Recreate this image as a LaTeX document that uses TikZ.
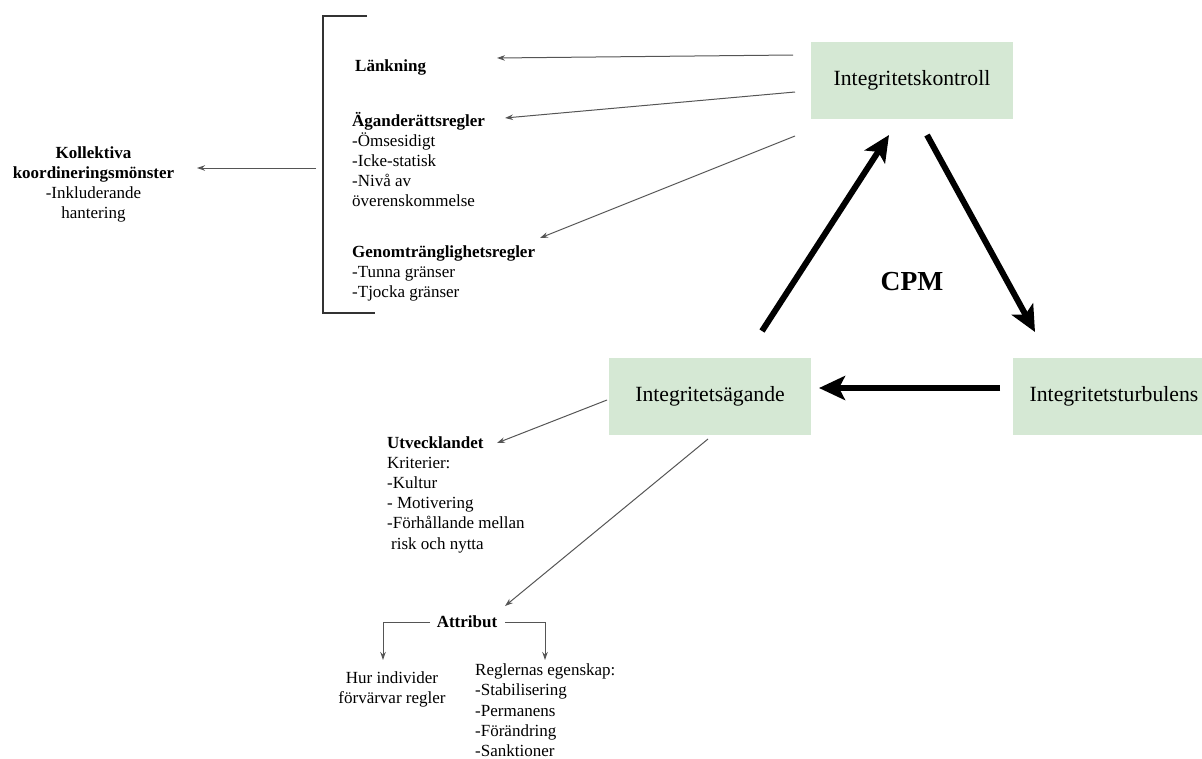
\documentclass[tikz,border=0pt]{standalone}
\usepackage{fontspec}
\setmainfont{Liberation Serif}
\usetikzlibrary{arrows.meta}
\definecolor{boxgreen}{RGB}{213,232,212}
\definecolor{thingray}{RGB}{85,85,85}
\begin{document}
\begin{tikzpicture}[x=1pt,y=-1pt,
  box/.style={rectangle, fill=boxgreen, minimum width=202pt, minimum height=77pt, inner sep=0pt, font=\fontsize{21.7}{26}\selectfont},
  small/.style={inner sep=0pt, font=\fontsize{17}{20.2}\selectfont, align=left},
  smallbold/.style={inner sep=0pt, font=\fontsize{17}{20.2}\selectfont\bfseries},
  thinarrow/.style={draw=thingray, line width=1pt, -{Stealth[length=8pt,width=5.5pt]}},
  thickarrow/.style={draw=black, line width=6pt, -{Stealth[length=26pt,width=24pt,inset=6pt]}},
  bracketline/.style={draw=black!80, line width=1.2pt}]
\useasboundingbox (0,0) rectangle (1202,758);
\clip (0,0) rectangle (1202,758);

% main boxes
\node[box] (ctrl) at (912,80.5) {Integritetskontroll};
\node[box] (own) at (710,396) {Integritetsägande};
\node[box] (turb) at (1114,396) {Integritetsturbulens};
\node[anchor=base, inner sep=0pt, font=\fontsize{27.5}{33}\selectfont\bfseries] (cpm) at (912,290) {CPM};

% text blocks (base anchor = baseline of the last line)
\node[smallbold, anchor=base west] (link) at (355,71) {Länkning};
\node[small, anchor=base west] (ownrules) at (352,206.8) {\textbf{Äganderättsregler}\\-Ömsesidigt\\-Icke-statisk\\-Nivå av\\överenskommelse};
\node[small, anchor=base west] (permrules) at (352,297.4) {\textbf{Genomtränglighetsregler}\\-Tunna gränser\\-Tjocka gränser};
\node[small, anchor=base, align=center] (coll) at (93.5,218.6) {\textbf{Kollektiva}\\\textbf{koordineringsmönster}\\-Inkluderande\\hantering};
\node[small, anchor=base west] (dev) at (387,549) {\textbf{Utvecklandet}\\Kriterier:\\-Kultur\\- Motivering\\-Förhållande mellan\\\hspace*{4pt}risk och nytta};
\node[smallbold, anchor=base] (attr) at (467,627) {Attribut};
\node[small, anchor=base, align=center] (how) at (392,703.2) {Hur individer\\förvärvar regler};
\node[small, anchor=base west] (props) at (475,756.5) {Reglernas egenskap:\\-Stabilisering\\-Permanens\\-Förändring\\-Sanktioner};

% bracket
\coordinate (bt) at (367,16);
\coordinate (btl) at (323,16);
\coordinate (bbl) at (323,313);
\coordinate (bb) at (375,313);
\draw[bracketline] (bt) -- (btl) -- (bbl) -- (bb);

% connector end points
\coordinate (c1s) at (793,55);   \coordinate (c1e) at (497,58);
\coordinate (c2s) at (795,92);   \coordinate (c2e) at (505,118);
\coordinate (c3s) at (795,136);  \coordinate (c3e) at (540,238);
\coordinate (ks) at (316,168);   \coordinate (ke) at (197,168);
\coordinate (o1s) at (607,400);  \coordinate (o1e) at (497,443);
\coordinate (o2s) at (708,439);  \coordinate (o2e) at (505,606);
\coordinate (al) at (430,622);   \coordinate (ale) at (383,660);
\coordinate (ar) at (505,622);   \coordinate (are) at (545,660);

\draw[thinarrow] (c1s) -- (c1e);
\draw[thinarrow] (c2s) -- (c2e);
\draw[thinarrow] (c3s) -- (c3e);
\draw[thinarrow] (ks) -- (ke);
\draw[thinarrow] (o1s) -- (o1e);
\draw[thinarrow] (o2s) -- (o2e);
\draw[thinarrow] (al) -| (ale);
\draw[thinarrow] (ar) -| (are);

% cycle arrows
\coordinate (us) at (762,331);  \coordinate (ue) at (889,135);
\coordinate (ds) at (927,135);  \coordinate (de) at (1035,332);
\coordinate (ls) at (1000,388); \coordinate (le) at (819,388);
\draw[thickarrow] (us) -- (ue);
\draw[thickarrow] (ds) -- (de);
\draw[thickarrow] (ls) -- (le);
\end{tikzpicture}
\end{document}
